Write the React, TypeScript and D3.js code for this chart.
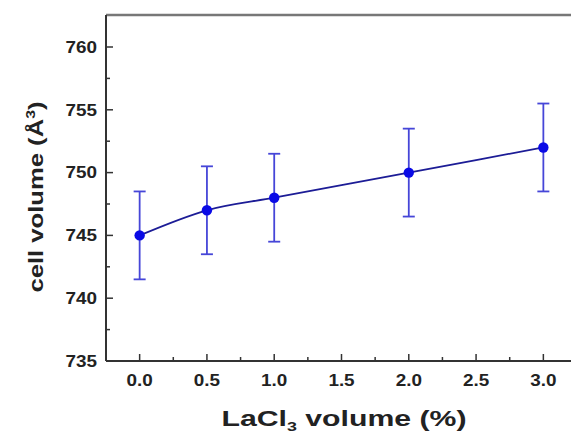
import React from "react";
import * as d3 from "d3";

const xValues = [0.0, 0.5, 1.0, 2.0, 3.0];
const yValues = [745, 747, 748, 750, 752];
const yErrors = [3.5, 3.5, 3.5, 3.5, 3.5];
const xTicks = [0.0, 0.5, 1.0, 1.5, 2.0, 2.5, 3.0];
const yTicks = [735, 740, 745, 750, 755, 760];

const W = 571;
const H = 434;
const left = 106;
const top = 15;
const bottom = 361;
const right = 577;

export default function App() {
  const x = d3.scaleLinear().domain([-0.25, 3.25]).range([left, right]);
  const y = d3.scaleLinear().domain([735, 760]).range([bottom, 47]);
  const pts = xValues.map((v, i) => [x(v), y(yValues[i])] as [number, number]);
  const line = d3.line().curve(d3.curveMonotoneX)(pts) || "";
  const xMinor = d3.range(-0.25, 3.26, 0.25).filter((v) => !xTicks.some((t) => Math.abs(t - v) < 1e-6));
  const yMinor = d3.range(735, 762.6, 2.5).filter((v) => !yTicks.some((t) => Math.abs(t - v) < 1e-6) && y(v) > top + 2);
  const font = "'Liberation Sans', Arial, sans-serif";
  const axisColor = "#333";
  const sx = 1.18;
  return (
    <svg width={W} height={H} style={{ position: "absolute", left: 0, top: 0, background: "#fff" }} fontFamily={font}>
      {/* frame */}
      <line x1={left} x2={W} y1={top} y2={top} stroke="#777" strokeWidth={2.5} />
      <line x1={left} x2={left} y1={top} y2={bottom} stroke={axisColor} strokeWidth={2} />
      <line x1={left} x2={W} y1={bottom} y2={bottom} stroke={axisColor} strokeWidth={2} />
      {/* y ticks */}
      {yTicks.map((t) => (
        <g key={"yt" + t}>
          <line x1={left} x2={left + 7} y1={y(t)} y2={y(t)} stroke={axisColor} strokeWidth={1.5} />
          <text
            transform={`translate(97,${y(t)}) scale(${sx},1)`}
            dy="0.36em"
            textAnchor="end"
            fontSize={16}
            fontWeight="bold"
            fill="#222"
          >
            {t}
          </text>
        </g>
      ))}
      {yMinor.map((t) => (
        <line key={"ym" + t} x1={left} x2={left + 4} y1={y(t)} y2={y(t)} stroke={axisColor} strokeWidth={1.5} />
      ))}
      {/* x ticks */}
      {xTicks.map((t) => (
        <g key={"xt" + t}>
          <line x1={x(t)} x2={x(t)} y1={bottom} y2={bottom - 7} stroke={axisColor} strokeWidth={1.5} />
          <text
            transform={`translate(${x(t)},386) scale(${sx},1)`}
            textAnchor="middle"
            fontSize={16}
            fontWeight="bold"
            fill="#222"
          >
            {t.toFixed(1)}
          </text>
        </g>
      ))}
      {xMinor.map((t) => (
        <line key={"xm" + t} x1={x(t)} x2={x(t)} y1={bottom} y2={bottom - 4} stroke={axisColor} strokeWidth={1.5} />
      ))}
      {/* error bars */}
      {xValues.map((v, i) => {
        const cx = x(v);
        const y1 = y(yValues[i] + yErrors[i]);
        const y2 = y(yValues[i] - yErrors[i]);
        return (
          <g key={"eb" + i} stroke="#4646d8" strokeWidth={1.8}>
            <line x1={cx} x2={cx} y1={y1} y2={y2} />
            <line x1={cx - 6} x2={cx + 6} y1={y1} y2={y1} />
            <line x1={cx - 6} x2={cx + 6} y1={y2} y2={y2} />
          </g>
        );
      })}
      <path d={line} fill="none" stroke="#1c1c96" strokeWidth={1.8} />
      {pts.map((p, i) => (
        <circle key={"pt" + i} cx={p[0]} cy={p[1]} r={5.2} fill="#0a0ae6" />
      ))}
      {/* labels */}
      <text
        transform={`translate(43,197) rotate(-90)`}
        textAnchor="middle"
        fontSize={21}
        fontWeight="bold"
        fill="#222"
        textLength={191}
        lengthAdjust="spacingAndGlyphs"
      >
        cell volume (Å<tspan dy={-8} fontSize={13}>3</tspan>
        <tspan dy={8}>)</tspan>
      </text>
      <text
        x={344}
        y={426}
        textAnchor="middle"
        fontSize={22}
        fontWeight="bold"
        fill="#222"
        textLength={245}
        lengthAdjust="spacingAndGlyphs"
      >
        LaCl<tspan dy={5} fontSize={13}>3</tspan>
        <tspan dy={-5}> volume (%)</tspan>
      </text>
    </svg>
  );
}
